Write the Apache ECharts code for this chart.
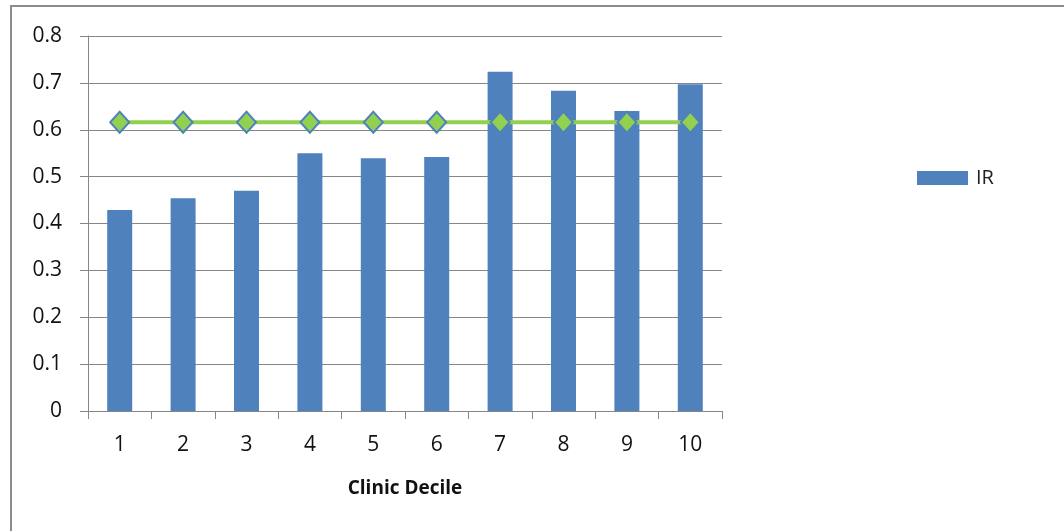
<!DOCTYPE html>
<html><head><meta charset="utf-8">
<script src="https://cdn.jsdelivr.net/npm/echarts@6/dist/echarts.min.js"></script>
<style>html,body{margin:0;padding:0;background:#fff}#c{width:1064px;height:531px;position:relative}
#frame{position:absolute;left:10px;top:5px;width:1070px;height:540px;border:2px solid #8c8c8c;box-sizing:border-box;pointer-events:none}</style>
</head><body><div id="c"></div><div id="frame"></div>
<script>
const categories = ['1','2','3','4','5','6','7','8','9','10'];
const irValues = [0.429, 0.454, 0.470, 0.550, 0.539, 0.542, 0.724, 0.683, 0.640, 0.697];
const avgValues = [0.616, 0.616, 0.616, 0.616, 0.616, 0.616, 0.616, 0.616, 0.616, 0.616];
const yTicks = [0, 0.1, 0.2, 0.3, 0.4, 0.5, 0.6, 0.7, 0.8];

const chart = echarts.init(document.getElementById('c'), null, {renderer:'canvas'});
const font = '"Open Sans", "Liberation Sans", sans-serif';
chart.setOption({
  animation:false,
  textStyle:{fontFamily:font},
  grid:{left:88, right:342, top:36, bottom:120},
  legend:{
    data:['IR'], left:912, top:163, orient:'vertical',
    itemWidth:51, itemHeight:14, itemGap:8,
    icon:'rect',
    textStyle:{fontSize:20, color:'#222', fontFamily:font, padding:[0,0,0,3]}
  },
  xAxis:{
    type:'category', data:categories,
    name:'Clinic Decile', nameLocation:'middle', nameGap:68,
    nameTextStyle:{fontSize:19, fontWeight:'bold', color:'#111', fontFamily:font},
    axisLine:{lineStyle:{color:'#868686', width:1}},
    axisTick:{show:true, alignWithLabel:false, length:8, lineStyle:{color:'#868686'}},
    axisLabel:{fontSize:21, color:'#111', margin:24, fontFamily:font}
  },
  yAxis:{
    type:'value', min:0, max:0.8, interval:0.1,
    axisLine:{show:true, lineStyle:{color:'#868686', width:1}},
    axisTick:{show:true, length:8, lineStyle:{color:'#868686'}},
    splitLine:{lineStyle:{color:'#868686', width:1}},
    axisLabel:{fontSize:21, color:'#111', margin:26, fontFamily:font,
      formatter:function(v){ const t = yTicks.find(x=>Math.abs(x-v)<1e-9); return t===0?'0':String(Math.round(t*10)/10); }}
  },
  series:[
    {name:'IR', type:'bar', data:irValues, barWidth:25, z:2,
     itemStyle:{color:'#4F81BD'}},
    {name:'Avg', type:'line', data:avgValues, z:3,
     lineStyle:{color:'#92D050', width:4},
     symbol:'diamond', symbolSize:[19,21],
     itemStyle:{color:'#92D050', borderColor:'#4F81BD', borderWidth:2}}
  ]
});
</script></body></html>
